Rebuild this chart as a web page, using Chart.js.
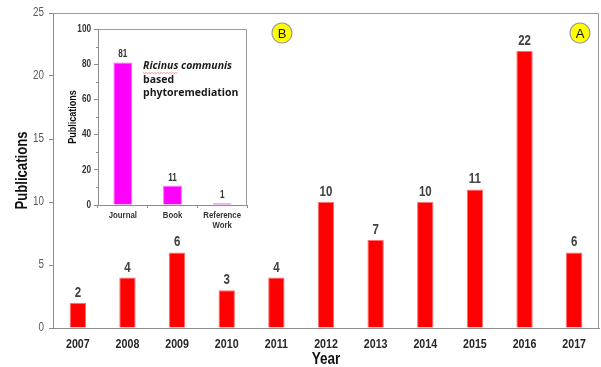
<!DOCTYPE html>
<html>
<head>
<meta charset="utf-8">
<script src="https://cdn.jsdelivr.net/npm/chart.js@4.4.0/dist/chart.umd.min.js"></script>
<style>
  html, body { margin: 0; padding: 0; background: #ffffff; }
  #wrap { position: relative; width: 601px; height: 367px; overflow: hidden; }
  #main { position: absolute; left: 0; top: 0; }
  #inset { position: absolute; left: 60px; top: 15px; }
</style>
</head>
<body>
<div id="wrap">
  <canvas id="main" width="601" height="367"></canvas>
  <canvas id="inset" width="200" height="228"></canvas>
</div>
<script>
// Publications per year (panel A)
const years = ['2007', '2008', '2009', '2010', '2011', '2012', '2013', '2014', '2015', '2016', '2017'];
const yearlyPublications = [2, 4, 6, 3, 4, 10, 7, 10, 11, 22, 6];
const yearTicks = [0, 5, 10, 15, 20, 25];
const yearAxisTitle = 'Year';
const countAxisTitle = 'Publications';

// Publications by source type (panel B)
const sourceTypes = ['Journal', 'Book', ['Reference', 'Work']];
const sourcePublications = [81, 11, 1];
const sourceTicks = [0, 20, 40, 60, 80, 100];
const sourceMinorTicks = [10, 30, 50, 70, 90];

const SANS = '"Liberation Sans", Arial, sans-serif';
const CONDENSE = 0.82; // horizontal squeeze giving an Arial Narrow look

// Draws one string horizontally condensed, optionally rotated
function narrowText(ctx, text, x, y, font, color, align, baseline, angle) {
  ctx.save();
  ctx.translate(x, y);
  if (angle) ctx.rotate(angle);
  ctx.scale(CONDENSE, 1);
  ctx.font = font;
  ctx.fillStyle = color;
  ctx.textAlign = align;
  ctx.textBaseline = baseline;
  ctx.fillText(text, 0, 0);
  ctx.restore();
}

// Numbers written above each bar
const valueLabels = {
  id: 'valueLabels',
  afterDatasetsDraw(chart, args, opts) {
    const meta = chart.getDatasetMeta(0);
    const data = chart.data.datasets[0].data;
    meta.data.forEach((bar, i) => {
      narrowText(chart.ctx, String(data[i]), bar.x, bar.y - opts.offset, opts.font, opts.color, 'center', 'alphabetic');
    });
  }
};

// Tick labels and axis titles, placed from the chart's own scales
const axisText = {
  id: 'axisText',
  afterDraw(chart, args, o) {
    const ctx = chart.ctx;
    const xs = chart.scales.x, ys = chart.scales.y, a = chart.chartArea;
    ys.ticks.forEach(t => {
      narrowText(ctx, String(t.value), ys.right - o.yTickGap, ys.getPixelForValue(t.value),
        o.yTickFont, o.yTickColor, 'right', 'middle');
    });
    chart.data.labels.forEach((lab, i) => {
      const lines = Array.isArray(lab) ? lab : [lab];
      const px = xs.getPixelForTick(i);
      lines.forEach((ln, j) => {
        narrowText(ctx, ln, px, xs.top + o.xTickGap + j * o.xTickLine, o.xTickFont, o.xTickColor, 'center', 'middle');
      });
    });
    if (o.xTitle) {
      narrowText(ctx, o.xTitle, (a.left + a.right) / 2, xs.top + o.xTitleGap, o.xTitleFont, o.titleColor, 'center', 'middle');
    }
    if (o.yTitle) {
      narrowText(ctx, o.yTitle, o.yTitleX, (a.top + a.bottom) / 2, o.yTitleFont, o.titleColor, 'center', 'middle', -Math.PI / 2);
    }
  }
};

// Top and right edges of the plot box
const plotFrame = {
  id: 'plotFrame',
  afterDraw(chart, args, opts) {
    const { ctx, chartArea: a } = chart;
    ctx.save();
    ctx.strokeStyle = opts.color;
    ctx.lineWidth = 1;
    ctx.beginPath();
    ctx.moveTo(Math.round(a.left) + 0.5, Math.round(a.top) + 0.5);
    ctx.lineTo(Math.round(a.right) - 0.5, Math.round(a.top) + 0.5);
    ctx.lineTo(Math.round(a.right) - 0.5, Math.round(a.bottom) + 0.5);
    ctx.stroke();
    ctx.restore();
  }
};

// Yellow panel badges
const panelBadges = {
  id: 'panelBadges',
  afterDraw(chart, args, opts) {
    const { ctx, chartArea: a } = chart;
    ctx.save();
    opts.items.forEach(b => {
      const x = a.left + b.dx, y = a.top + b.dy;
      ctx.beginPath();
      ctx.arc(x, y, 10, 0, Math.PI * 2);
      ctx.fillStyle = '#ffff00';
      ctx.fill();
      ctx.strokeStyle = '#9a9a9a';
      ctx.lineWidth = 1.2;
      ctx.stroke();
      ctx.fillStyle = '#111111';
      ctx.font = '13px ' + SANS;
      ctx.textAlign = 'center';
      ctx.textBaseline = 'middle';
      ctx.fillText(b.text, x, y + 1);
    });
    ctx.restore();
  }
};

// Short minor tick marks on the inset value axis
const minorTicks = {
  id: 'minorTicks',
  afterDraw(chart, args, opts) {
    const { ctx } = chart;
    const y = chart.scales.y;
    ctx.save();
    ctx.strokeStyle = opts.color;
    ctx.lineWidth = 1;
    sourceMinorTicks.forEach(v => {
      const py = Math.round(y.getPixelForValue(v)) + 0.5;
      ctx.beginPath();
      ctx.moveTo(y.right - 2, py);
      ctx.lineTo(y.right, py);
      ctx.stroke();
    });
    ctx.restore();
  }
};

// Caption inside the inset
const insetCaption = {
  id: 'insetCaption',
  afterDraw(chart) {
    const { ctx, chartArea: a } = chart;
    const x = a.left + 45;
    ctx.save();
    ctx.fillStyle = '#1a1a1a';
    ctx.textAlign = 'left';
    ctx.textBaseline = 'middle';
    ctx.font = 'italic 700 10.5px "Open Sans", sans-serif';
    ctx.fillText('Ricinus', x, a.top + 37);
    const w1 = ctx.measureText('Ricinus').width;
    ctx.fillText(' communis', x + w1, a.top + 37);
    // spell-check style squiggle under the genus name
    ctx.strokeStyle = 'rgba(230,90,90,0.8)';
    ctx.lineWidth = 0.8;
    ctx.beginPath();
    for (let i = 0; i <= w1; i += 1.5) {
      const yy = a.top + 43.5 + ((i / 1.5) % 2 === 0 ? 0 : 1);
      if (i === 0) ctx.moveTo(x + i, yy); else ctx.lineTo(x + i, yy);
    }
    ctx.stroke();
    ctx.font = '700 10.5px "Open Sans", sans-serif';
    ctx.fillText('based', x, a.top + 51);
    ctx.fillText('phytoremediation', x, a.top + 64);
    ctx.restore();
  }
};

new Chart(document.getElementById('main'), {
  type: 'bar',
  data: {
    labels: years,
    datasets: [{
      data: yearlyPublications,
      backgroundColor: '#ff0000',
      borderColor: '#ff7070',
      borderWidth: 1,
      categoryPercentage: 1,
      barPercentage: 0.33
    }]
  },
  options: {
    responsive: false,
    animation: false,
    layout: { padding: { top: 13, right: 2, left: 0, bottom: 0 } },
    plugins: {
      legend: { display: false },
      tooltip: { enabled: false },
      valueLabels: { font: 'bold 14px ' + SANS, color: '#404040', offset: 6 },
      axisText: {
        yTickGap: 9, yTickFont: '12px ' + SANS, yTickColor: '#5a5a5a',
        xTickGap: 16.5, xTickLine: 11, xTickFont: 'bold 13px ' + SANS, xTickColor: '#262626',
        xTitle: yearAxisTitle, xTitleGap: 31, xTitleFont: 'bold 16.5px ' + SANS,
        yTitle: countAxisTitle, yTitleX: 23, yTitleFont: 'bold 16px ' + SANS,
        titleColor: '#111111'
      },
      plotFrame: { color: '#9a9a9a' },
      panelBadges: { items: [{ text: 'B', dx: 229, dy: 20 }, { text: 'A', dx: 527, dy: 20 }] }
    },
    scales: {
      x: {
        grid: { display: false },
        border: { display: true, color: '#8c8c8c', width: 1 },
        ticks: { display: false },
        afterFit(scale) { scale.height = 39; }
      },
      y: {
        min: yearTicks[0],
        max: yearTicks[yearTicks.length - 1],
        ticks: { display: false, stepSize: yearTicks[1] - yearTicks[0] },
        grid: { drawOnChartArea: false, drawTicks: true, tickLength: 4, color: '#8c8c8c' },
        border: { display: true, color: '#8c8c8c', width: 1 },
        afterFit(scale) { scale.width = 53; }
      }
    }
  },
  plugins: [valueLabels, axisText, plotFrame, panelBadges]
});

new Chart(document.getElementById('inset'), {
  type: 'bar',
  data: {
    labels: sourceTypes,
    datasets: [{
      data: sourcePublications,
      backgroundColor: '#ff00ff',
      borderColor: '#ff66ff',
      borderWidth: 1,
      categoryPercentage: 1,
      barPercentage: 0.38
    }]
  },
  options: {
    responsive: false,
    animation: false,
    layout: { padding: { top: 14, right: 13, left: 0, bottom: 0 } },
    plugins: {
      legend: { display: false },
      tooltip: { enabled: false },
      valueLabels: { font: 'bold 10px ' + SANS, color: '#333333', offset: 5 },
      axisText: {
        yTickGap: 7, yTickFont: 'bold 10px ' + SANS, yTickColor: '#333333',
        xTickGap: 10, xTickLine: 10.5, xTickFont: 'bold 9.5px ' + SANS, xTickColor: '#333333',
        yTitle: countAxisTitle, yTitleX: 13, yTitleFont: 'bold 11px ' + SANS,
        titleColor: '#111111'
      },
      plotFrame: { color: '#9a9a9a' },
      minorTicks: { color: '#8c8c8c' }
    },
    scales: {
      x: {
        grid: { display: true, drawOnChartArea: false, drawTicks: true, tickLength: 3, color: '#8c8c8c', offset: true },
        border: { display: true, color: '#8c8c8c', width: 1 },
        ticks: { display: false },
        afterFit(scale) { scale.height = 38; }
      },
      y: {
        min: sourceTicks[0],
        max: sourceTicks[sourceTicks.length - 1],
        ticks: { display: false, stepSize: sourceTicks[1] - sourceTicks[0] },
        grid: { drawOnChartArea: false, drawTicks: true, tickLength: 4, color: '#8c8c8c' },
        border: { display: true, color: '#8c8c8c', width: 1 },
        afterFit(scale) { scale.width = 38; }
      }
    }
  },
  plugins: [valueLabels, axisText, plotFrame, minorTicks, insetCaption]
});
</script>
</body>
</html>
